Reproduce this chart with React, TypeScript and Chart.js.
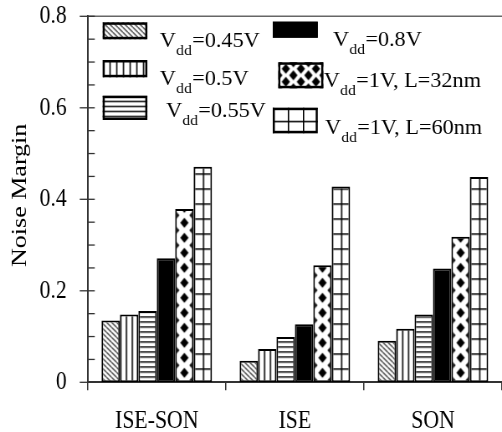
import React, { useEffect, useRef } from 'react';
import { Chart, registerables } from 'chart.js';

Chart.register(...registerables);

// ---------- data ----------
const categories = ['ISE-SON', 'ISE', 'SON'];
const seriesNames = ['Vdd=0.45V', 'Vdd=0.5V', 'Vdd=0.55V', 'Vdd=0.8V', 'Vdd=1V, L=32nm', 'Vdd=1V, L=60nm'];
const vdd045 = [0.135, 0.047, 0.091];
const vdd050 = [0.148, 0.073, 0.117];
const vdd055 = [0.156, 0.099, 0.148];
const vdd080 = [0.271, 0.127, 0.249];
const vdd1L32 = [0.379, 0.256, 0.318];
const vdd1L60 = [0.471, 0.428, 0.449];
const yMajorTicks = [0, 0.2, 0.4, 0.6, 0.8];
const yMinorStep = 0.05;
const yAxisTitle = 'Noise Margin';

// ---------- layout / style ----------
const W = 600; // logical canvas width (displayed squeezed to 502)
const H = 432;
const CSS_W = 502;
const SERIF = '"Liberation Serif", "Times New Roman", serif';

type Kind = 'diag' | 'vert' | 'horz' | 'solid' | 'diamond' | 'grid';
const kinds: Kind[] = ['diag', 'vert', 'horz', 'solid', 'diamond', 'grid'];

function makePattern(
  ctx: CanvasRenderingContext2D,
  kind: Kind,
  tw: number,
  th: number,
  ox: number,
  oy: number
): CanvasPattern | string {
  if (kind === 'solid') return '#000';
  if (!isFinite(tw) || !isFinite(th) || !isFinite(ox) || !isFinite(oy)) return '#fff';
  tw = Math.max(1, Math.round(tw));
  th = Math.max(1, Math.round(th));
  const c = document.createElement('canvas');
  c.width = tw;
  c.height = th;
  const g = c.getContext('2d')!;
  g.fillStyle = '#fff';
  g.fillRect(0, 0, tw, th);
  g.fillStyle = '#000';
  g.strokeStyle = '#111';
  if (kind === 'diag') {
    g.lineWidth = 1.1;
    for (const dx of [-tw, 0, tw]) {
      g.beginPath();
      g.moveTo(dx, 0);
      g.lineTo(dx + tw, th);
      g.stroke();
    }
  } else if (kind === 'vert') {
    g.fillRect(0, 0, 1.6, th);
  } else if (kind === 'horz') {
    g.fillRect(0, 0, tw, 1.4);
  } else if (kind === 'diamond') {
    const rx = 5;
    const ry = 5;
    const pts = [
      [tw / 2, th / 2],
      [0, 0],
      [tw, 0],
      [0, th],
      [tw, th],
    ];
    for (const [cx, cy] of pts) {
      g.beginPath();
      g.moveTo(cx, cy - ry);
      g.lineTo(cx + rx, cy);
      g.lineTo(cx, cy + ry);
      g.lineTo(cx - rx, cy);
      g.closePath();
      g.fill();
    }
  } else if (kind === 'grid') {
    g.fillRect(0, 0, 1.6, th);
    g.fillRect(0, 0, tw, 1.5);
  }
  const p = ctx.createPattern(c, 'repeat');
  if (!p) return '#fff';
  p.setTransform(new DOMMatrix().translate(ox, oy));
  return p;
}

function barFill(ctx: CanvasRenderingContext2D, kind: Kind, barW: number, left: number, bottom: number) {
  switch (kind) {
    case 'diag':
      return makePattern(ctx, kind, 6, 5, left, bottom);
    case 'vert':
      return makePattern(ctx, kind, barW / 3, 1, left, 0);
    case 'horz':
      return makePattern(ctx, kind, 1, 5, 0, bottom - 1);
    case 'diamond':
      return makePattern(ctx, kind, barW, 15, left, bottom - 17);
    case 'grid':
      return makePattern(ctx, kind, barW / 2, 15, left, bottom + 1);
    default:
      return '#000';
  }
}

// legend boxes and text anchors (logical px)
const legendLayout = [
  { box: [122.7, 22.3, 53.4, 17], tx: 191, ty: 47 },
  { box: [122.7, 60, 53.4, 17.3], tx: 191, ty: 85 },
  { box: [122.7, 95.7, 53.4, 24.3], tx: 198.4, ty: 117 },
  { box: [326, 21.7, 53.8, 16], tx: 398, ty: 46 },
  { box: [332.6, 62.3, 53.8, 26], tx: 387, ty: 87 },
  { box: [326, 107.7, 53.8, 25.6], tx: 388.4, ty: 133.5 },
];

function legendFill(ctx: CanvasRenderingContext2D, kind: Kind, x: number, y: number, w: number, h: number) {
  switch (kind) {
    case 'diag':
      return makePattern(ctx, kind, 6, 5, x, y);
    case 'vert':
      return makePattern(ctx, kind, 8, 1, x, 0);
    case 'horz':
      return makePattern(ctx, kind, 1, 5, 0, y);
    case 'diamond':
      return makePattern(ctx, kind, 18, 13, x, y);
    case 'grid':
      return makePattern(ctx, kind, w / 3, h / 2, x, y);
    default:
      return '#000';
  }
}

const LEG_STRETCH = 1.33;

function drawLegendText(ctx: CanvasRenderingContext2D, name: string, x: number, baseline: number) {
  const rest = name.slice(3);
  ctx.save();
  ctx.translate(x, baseline);
  ctx.scale(LEG_STRETCH, 1);
  ctx.fillStyle = '#000';
  ctx.textAlign = 'left';
  ctx.textBaseline = 'alphabetic';
  ctx.font = `20px ${SERIF}`;
  ctx.fillText('V', 0, 0);
  let cx = ctx.measureText('V').width + 0.3;
  ctx.font = `14px ${SERIF}`;
  ctx.fillText('dd', cx, 8);
  cx += ctx.measureText('dd').width + 0.3;
  ctx.font = `20px ${SERIF}`;
  ctx.fillText(rest, cx, 0);
  ctx.restore();
}

const isMajor = (v: number) => yMajorTicks.some((m) => Math.abs(m - v) < 1e-6);

const decorPlugin = {
  id: 'decor',
  afterDraw(chart: any) {
    const ctx: CanvasRenderingContext2D = chart.ctx;
    const area = chart.chartArea;
    const ys = chart.scales.y;
    ctx.save();
    // top border line
    ctx.strokeStyle = '#666';
    ctx.lineWidth = 1.5;
    ctx.beginPath();
    ctx.moveTo(area.left, area.top);
    ctx.lineTo(area.right, area.top);
    ctx.stroke();
    // y ticks (major cross, minor inward)
    ctx.strokeStyle = '#333';
    ctx.lineWidth = 1.3;
    for (const t of ys.ticks) {
      const py = ys.getPixelForValue(t.value);
      ctx.beginPath();
      if (isMajor(t.value)) {
        ctx.moveTo(area.left - 9.5, py);
        ctx.lineTo(area.left + 8.5, py);
      } else {
        ctx.moveTo(area.left, py);
        ctx.lineTo(area.left + 8.5, py);
      }
      ctx.stroke();
    }
    // y axis title
    ctx.fillStyle = '#000';
    ctx.font = `26px ${SERIF}`;
    ctx.textAlign = 'center';
    ctx.textBaseline = 'middle';
    ctx.translate(24.5, (area.top + area.bottom) / 2 - 4);
    ctx.rotate(-Math.PI / 2);
    ctx.fillText(yAxisTitle, 0, 0);
    ctx.restore();

    // legend
    ctx.save();
    seriesNames.forEach((name, i) => {
      const L = legendLayout[i];
      const [x, y, w, h] = L.box;
      ctx.fillStyle = legendFill(ctx, kinds[i], x, y, w, h) as any;
      ctx.fillRect(x, y, w, h);
      ctx.strokeStyle = '#000';
      ctx.lineWidth = 2.5;
      ctx.strokeRect(x + 1.25, y + 1.25, w - 2.5, h - 2.5);
      drawLegendText(ctx, name, L.tx, L.ty);
    });
    ctx.restore();
  },
};

const seriesValues = [vdd045, vdd050, vdd055, vdd080, vdd1L32, vdd1L60];

export default function App() {
  const ref = useRef<HTMLCanvasElement>(null);
  useEffect(() => {
    const canvas = ref.current!;
    const chart = new Chart(canvas, {
      type: 'bar',
      data: {
        labels: categories,
        datasets: seriesValues.map((vals, di) => ({
          label: seriesNames[di],
          data: vals,
          borderColor: '#000',
          borderWidth: 2,
          borderSkipped: false,
          categoryPercentage: 0.8,
          barPercentage: 1,
          backgroundColor: (c: any) => {
            if (c.type !== 'data') return '#fff';
            const ch = c.chart;
            const xs = ch.scales && ch.scales.x;
            const ys = ch.scales && ch.scales.y;
            if (!xs || !ys || !ch.chartArea) return '#fff';
            const catW = (xs.right - xs.left) / categories.length;
            const groupW = catW * 0.8;
            const barW = groupW / seriesNames.length;
            const left = xs.getPixelForValue(c.dataIndex) - groupW / 2 + c.datasetIndex * barW;
            const bottom = ys.getPixelForValue(0);
            if (!(barW > 1)) return '#fff';
            return barFill(ch.ctx, kinds[c.datasetIndex], barW, left, bottom);
          },
        })),
      },
      options: {
        responsive: false,
        animation: false,
        devicePixelRatio: 1,
        events: [],
        layout: { padding: { top: 16.3, right: 0, left: 0, bottom: 0 } },
        plugins: {
          legend: { display: false },
          tooltip: { enabled: false },
          title: { display: false },
        },
        scales: {
          x: {
            type: 'category',
            offset: true,
            grid: {
              offset: true,
              drawOnChartArea: false,
              drawTicks: true,
              tickLength: 8,
              color: '#333',
              lineWidth: 1.5,
            },
            border: { display: true, color: '#333', width: 2 },
            ticks: {
              font: { family: SERIF, size: 26 },
              color: '#000',
              padding: 15,
              maxRotation: 0,
              autoSkip: false,
            },
            afterFit: (s: any) => {
              s.height = H - 382.3;
              s.paddingLeft = 0;
              s.paddingRight = 0;
            },
          },
          y: {
            min: 0,
            max: 0.8,
            grid: { display: false, drawTicks: false },
            border: { display: true, color: '#333', width: 2 },
            ticks: {
              stepSize: yMinorStep,
              maxTicksLimit: 100,
              padding: 25,
              autoSkip: false,
              font: { family: SERIF, size: 26 },
              color: '#000',
              callback: (v: any) => {
                const n = Number(v);
                return isMajor(n) ? String(Math.round(n * 10) / 10) : '';
              },
            },
            afterFit: (s: any) => {
              s.width = 104.8;
              s.paddingTop = 0;
              s.paddingBottom = 0;
            },
          },
        },
      } as any,
      plugins: [decorPlugin],
    });
    return () => chart.destroy();
  }, []);

  return (
    <div style={{ position: 'absolute', left: 0, top: 0, width: CSS_W, height: H, background: '#fff', overflow: 'hidden' }}>
      <canvas ref={ref} width={W} height={H} style={{ width: `${CSS_W}px`, height: `${H}px`, display: 'block' }} />
    </div>
  );
}
